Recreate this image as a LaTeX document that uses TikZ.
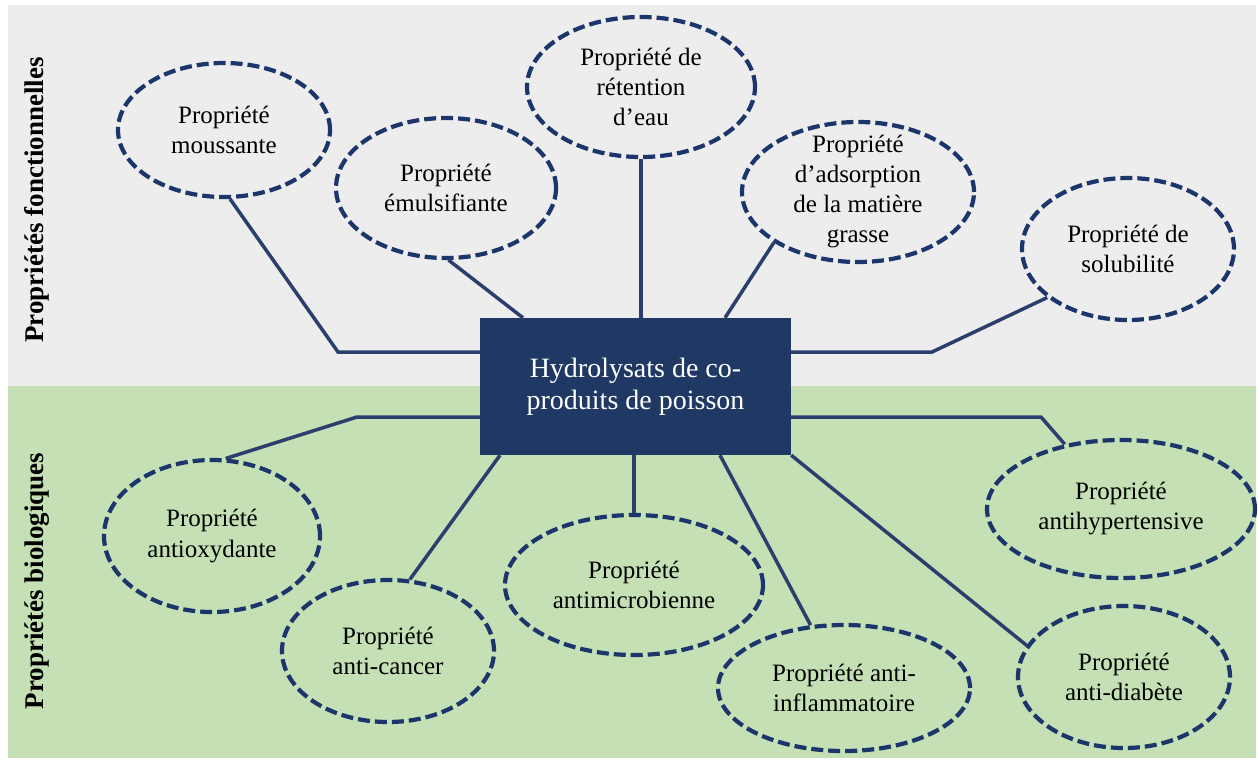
\documentclass[tikz,border=0pt]{standalone}
\usepackage{fontspec}
\setmainfont{Liberation Serif}
\usetikzlibrary{shapes.geometric}
\definecolor{navy}{HTML}{203864}
\definecolor{dnav}{HTML}{1C366C}
\definecolor{lnav}{HTML}{2C3E6E}
\definecolor{bggrey}{HTML}{EDEDED}
\definecolor{bggreen}{HTML}{C5E0B4}
\begin{document}
\begin{tikzpicture}[x=1pt,y=-1pt,
  prop/.style={ellipse, draw=dnav, line width=4.2pt, dash pattern=on 12pt off 5pt,
    inner sep=0pt, align=center, font=\fontsize{25}{30}\selectfont},
  link/.style={draw=lnav, line width=3.5pt},
  side/.style={rotate=90, font=\fontsize{27}{30}\selectfont\bfseries}]
\useasboundingbox (0,0) rectangle (1258,760);
\fill[bggrey] (8,5) rectangle (1256,386);
\fill[bggreen] (8,386) rectangle (1256,758);

\node[side] (lf) at (37,200) {Propriétés fonctionnelles};
\node[side] (lb) at (37,581) {Propriétés biologiques};

\node[fill=navy, minimum width=311pt, minimum height=137pt, text=white, align=center,
  inner sep=0pt, font=\fontsize{28}{32}\selectfont] (hub) at (635.5,386.5)
  {Hydrolysats de co-\\produits de poisson};

\node[prop, minimum width=212pt, minimum height=134pt] (mou) at (224,130) {Propriété\\moussante};
\node[prop, minimum width=220pt, minimum height=140pt] (emu) at (446,188) {Propriété\\émulsifiante};
\node[prop, minimum width=228pt, minimum height=140pt] (ret) at (641,87) {Propriété de\\rétention\\d’eau};
\node[prop, minimum width=232pt, minimum height=140pt, inner sep=-10pt] (ads) at (858,192) {Propriété\\d’adsorption\\de la matière\\grasse};
\node[prop, minimum width=212pt, minimum height=142pt] (sol) at (1128,249) {Propriété de\\solubilité};
\node[prop, minimum width=216pt, minimum height=152pt] (oxy) at (212,536) {Propriété\\antioxydante};
\node[prop, minimum width=212pt, minimum height=142pt] (can) at (388,651) {Propriété\\anti-cancer};
\node[prop, minimum width=258pt, minimum height=140pt] (mic) at (634,585) {Propriété\\antimicrobienne};
\node[prop, minimum width=252pt, minimum height=126pt] (inf) at (844,688) {Propriété anti-\\inflammatoire};
\node[prop, minimum width=268pt, minimum height=138pt] (hyp) at (1121,509) {Propriété\\antihypertensive};
\node[prop, minimum width=212pt, minimum height=142pt] (dia) at (1124,677) {Propriété\\anti-diabète};

\draw[link] (mou.-85) -- (338,352) -- (hub.west |- 338,352);
\draw[link] (emu.-88) -- (hub.north -| 523,0);
\draw[link] (ret.south) -- (hub.north -| ret.south);
\draw[link] (ads.211) -- (hub.north -| 725,0);
\draw[link] (sol.211.6) -- (932,352) -- (hub.east |- 932,352);
\draw[link] (oxy.80) -- (357,417) -- (hub.west |- 357,417);
\draw[link] (can.73) -- (hub.south -| 500,0);
\draw[link] (mic.north) -- (hub.south -| mic.north);
\draw[link] (hub.south -| 720,0) -- (inf.118);
\draw[link] (hub.south east) -- (dia.162);
\draw[link] (hub.east |- 1041,417) -- (1041,417) -- (hyp.131);
\end{tikzpicture}
\end{document}
